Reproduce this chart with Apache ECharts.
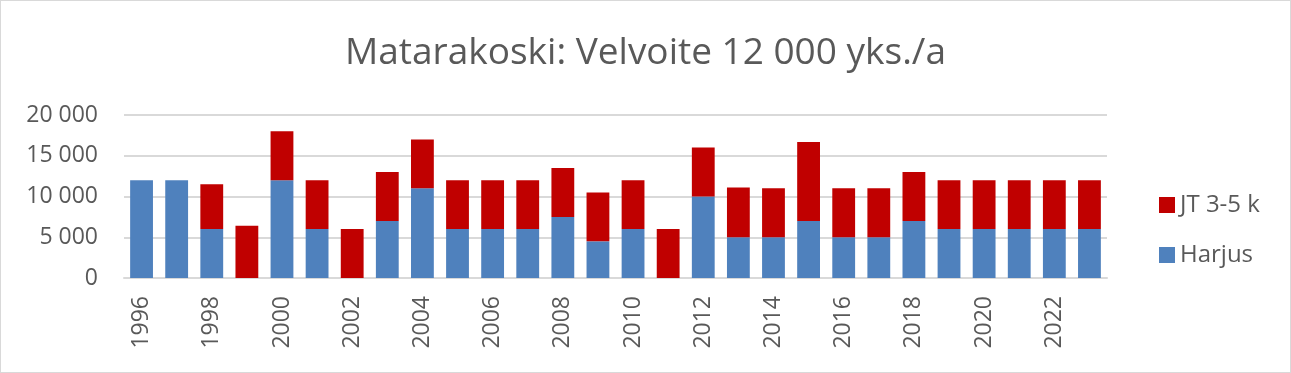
<!DOCTYPE html>
<html><head><meta charset="utf-8">
<script src="https://cdn.jsdelivr.net/npm/echarts@6/dist/echarts.min.js"></script>
<style>html,body{margin:0;padding:0;background:#fff}#c{width:1291px;height:373px;box-sizing:border-box;border:1px solid #d9d9d9}</style>
</head><body><div id="c"></div>
<script>
const years = ['1996','1997','1998','1999','2000','2001','2002','2003','2004','2005','2006','2007','2008','2009','2010','2011','2012','2013','2014','2015','2016','2017','2018','2019','2020','2021','2022','2023'];
const harjus = [12000,12000,6000,0,12000,6000,0,7000,11000,6000,6000,6000,7500,4500,6000,0,10000,5000,5000,7000,5000,5000,7000,6000,6000,6000,6000,6000];
const jt = [0,0,5500,6400,6000,6000,6000,6000,6000,6000,6000,6000,6000,6000,6000,6000,6000,6100,6000,9700,6000,6000,6000,6000,6000,6000,6000,6000];
const yTicks = [0,5000,10000,15000,20000];
const fmt = v => v >= 1000 ? Math.floor(v/1000) + ' ' + String(v%1000).padStart(3,'0') : String(v);
const chart = echarts.init(document.getElementById('c'));
const font = 'Open Sans';
chart.setOption({
  animation:false,
  title:{text:'Matarakoski: Velvoite 12 000 yks./a',left:'center',top:29,textStyle:{fontFamily:font,fontSize:37,fontWeight:'normal',color:'#595959'}},
  legend:{orient:'vertical',left:1153,top:187,itemWidth:16,itemHeight:16,itemGap:26,icon:'rect',
    data:['JT 3-5 k','Harjus'],textStyle:{fontFamily:font,fontSize:24,color:'#595959'}},
  grid:{left:123,right:183,top:114,bottom:94,containLabel:false},
  xAxis:{type:'category',data:years,axisTick:{show:false},axisLine:{lineStyle:{color:'#d9d9d9',width:2}},
    axisLabel:{interval:1,rotate:90,fontFamily:font,fontSize:23,color:'#595959',margin:18}},
  yAxis:{type:'value',min:0,max:20000,interval:5000,axisLine:{show:false},axisTick:{show:false},
    splitLine:{lineStyle:{color:'#d9d9d9',width:2}},
    axisLabel:{fontFamily:font,fontSize:23,color:'#595959',margin:26,formatter:v=>fmt(v)}},
  series:[
    {name:'Harjus',type:'bar',stack:'a',data:harjus,barCategoryGap:'35%',itemStyle:{color:'#4f81bd'}},
    {name:'JT 3-5 k',type:'bar',stack:'a',data:jt,itemStyle:{color:'#c00000'}}
  ]
});
</script></body></html>
